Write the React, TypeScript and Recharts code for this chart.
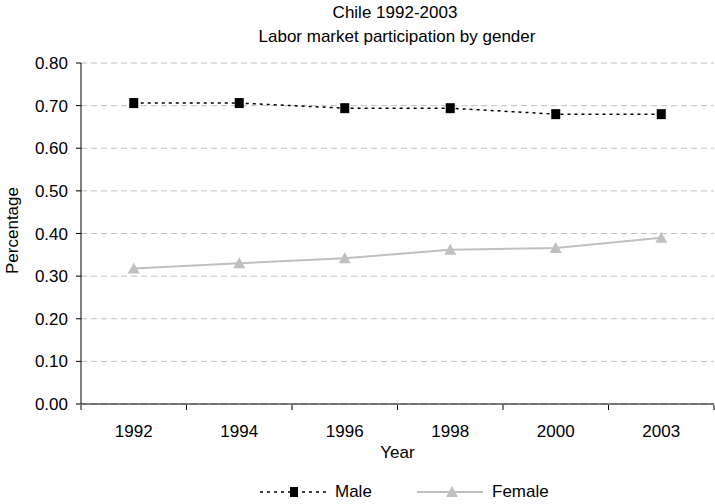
import React from "react";
import { LineChart, Line, XAxis, YAxis, CartesianGrid, Legend, Label } from "recharts";

const years = ["1992", "1994", "1996", "1998", "2000", "2003"];
const maleValues = [0.706, 0.706, 0.694, 0.694, 0.68, 0.68];
const femaleValues = [0.318, 0.33, 0.342, 0.362, 0.366, 0.39];
const yTicks = [0, 0.1, 0.2, 0.3, 0.4, 0.5, 0.6, 0.7, 0.8];

const data = years.map((y, i) => ({ year: y, Male: maleValues[i], Female: femaleValues[i] }));

const FONT = "'Liberation Sans', Arial, sans-serif";
const FS = 17;

const Square = (props: any) => {
  const { cx, cy } = props;
  if (cx == null || cy == null) return null;
  return <rect x={cx - 4.5} y={cy - 5} width={9} height={10} fill="#000" />;
};

const Triangle = (props: any) => {
  const { cx, cy } = props;
  if (cx == null || cy == null) return null;
  return <polygon points={`${cx},${cy - 6} ${cx + 6},${cy + 5} ${cx - 6},${cy + 5}`} fill="#c0c0c0" />;
};

const XTick = (props: any) => {
  const { x, y, payload, index, visibleTicksCount } = props;
  const off = payload.offset || 0;
  const last = (visibleTicksCount ?? years.length) - 1;
  return (
    <g>
      <line x1={x - off} x2={x - off} y1={y - 7} y2={y - 2} stroke="#000" />
      {index === last && <line x1={x + off} x2={x + off} y1={y - 7} y2={y - 2} stroke="#000" />}
      <text x={x} y={y + 25} textAnchor="middle" fontSize={FS} fontFamily={FONT} fill="#000">
        {payload.value}
      </text>
    </g>
  );
};

const LegendContent = () => (
  <svg width={715} height={40} style={{ display: "block" }}>
    <line x1={260} x2={328} y1={28} y2={28} stroke="#000" strokeWidth={1.5} strokeDasharray="3 4" />
    <rect x={290} y={23} width={8} height={10} fill="#000" />
    <text x={335} y={33} fontSize={FS} fontFamily={FONT} fill="#000">Male</text>
    <line x1={417} x2={483} y1={28} y2={28} stroke="#c0c0c0" strokeWidth={2} />
    <polygon points="452,22 458,33 446,33" fill="#c0c0c0" />
    <text x={492} y={33} fontSize={FS} fontFamily={FONT} fill="#000">Female</text>
  </svg>
);

export default function App() {
  return (
    <div style={{ position: "absolute", left: 0, top: 0, width: 715, height: 504, background: "#fff", fontFamily: FONT }}>
      <div style={{ position: "absolute", left: 195, width: 400, top: 4, textAlign: "center", fontSize: FS, lineHeight: "18px" }}>
        Chile 1992-2003
      </div>
      <div style={{ position: "absolute", left: 197, width: 400, top: 28, textAlign: "center", fontSize: FS, lineHeight: "18px" }}>
        Labor market participation by gender
      </div>
      <LineChart width={715} height={504} data={data} margin={{ top: 63, right: 1, bottom: 0, left: 0 }}>
        <CartesianGrid vertical={false} stroke="#c0c0c0" strokeDasharray="6 4" />
        <XAxis
          dataKey="year"
          scale="band"
          tickLine={false}
          axisLine={{ stroke: "#000" }}
          height={60}
          tick={<XTick />}
          interval={0}
        >
          <Label value="Year" position="insideBottom" offset={6} fontSize={FS} fontFamily={FONT} fill="#000" />
        </XAxis>
        <YAxis
          width={81}
          domain={[0, 0.8]}
          ticks={yTicks}
          tickFormatter={(v: number) => v.toFixed(2)}
          axisLine={{ stroke: "#000" }}
          tickLine={{ stroke: "#000" }}
          tickSize={5}
          tickMargin={8}
          tick={{ fontSize: FS, fontFamily: FONT, fill: "#000" }}
        >
          <Label value="Percentage" angle={-90} position="insideLeft" offset={2} dx={10} dy={-3} fontSize={FS} fontFamily={FONT} fill="#000" style={{ textAnchor: "middle" }} />
        </YAxis>
        <Legend verticalAlign="bottom" height={40} content={<LegendContent />} />
        <Line dataKey="Male" stroke="#000" strokeWidth={1.5} strokeDasharray="3 4" dot={<Square />} isAnimationActive={false} />
        <Line dataKey="Female" stroke="#c0c0c0" strokeWidth={2} dot={<Triangle />} isAnimationActive={false} />
      </LineChart>
    </div>
  );
}
